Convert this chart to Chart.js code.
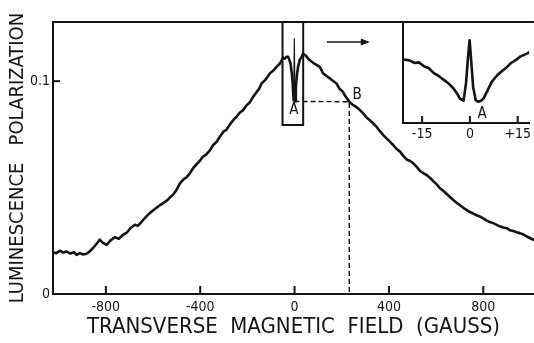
<!DOCTYPE html>
<html><head><meta charset="utf-8">
<script src="https://cdn.jsdelivr.net/npm/chart.js@4"></script>
<style>
html,body{margin:0;padding:0;background:#fff;}
#wrap{position:relative;width:534px;height:343px;overflow:hidden;background:#fff;}
#wrap canvas{position:absolute;left:0;top:0;}
</style></head><body>
<div id="wrap"><canvas id="main" width="534" height="343"></canvas><canvas id="inset" width="534" height="343"></canvas></div>
<script>
// ---- main trace: transverse field (G) vs luminescence polarization ----
const fieldGauss = [-1024,-1010,-995,-980,-967,-950,-935,-924,-910,-895,-882,-868,-854,-840,-826,-812,-797,-780,-762,-745,-727,-710,-695,-677,-665,-656,-640,-628,-614,-600,-585,-570,-557,-540,-527,-515,-500,-486,-470,-458,-444,-430,-415,-402,-389,-375,-359,-345,-330,-317,-300,-290,-275,-260,-245,-232,-218,-205,-190,-176,-160,-150,-140,-125,-115,-105,-90,-75,-62,-55,-48,-41,-34,-27,-22,-17,-12,-8,-4,-1,2,5.5,10,15,22,30,36,45,55,65,80,95,107,115,121,135,150,165,178,190,205,215,225,232,245,260,277,290,305,320,333,348,362,375,390,405,418,432,447,460,475,490,503,518,532,546,560,575,590,603,616,630,645,660,673,688,700,715,729,743,757,772,786,800,815,828,842,857,870,885,899,913,927,941,955,970,985,1000,1012,1020];
const polarization = [0.0195,0.0192,0.0203,0.0195,0.0200,0.0190,0.0196,0.0184,0.0192,0.0186,0.0189,0.0200,0.0216,0.0235,0.0255,0.0240,0.0231,0.0252,0.0267,0.0260,0.0278,0.0290,0.0310,0.0325,0.0320,0.0330,0.0350,0.0365,0.0380,0.0392,0.0405,0.0418,0.0427,0.0440,0.0455,0.0466,0.0490,0.0520,0.0540,0.0548,0.0567,0.0591,0.0610,0.0625,0.0645,0.0655,0.0675,0.0700,0.0715,0.0739,0.0765,0.0770,0.0795,0.0817,0.0835,0.0852,0.0864,0.0885,0.0900,0.0926,0.0950,0.0965,0.0989,0.1005,0.1020,0.1036,0.1050,0.1068,0.1083,0.1098,0.1110,0.1106,0.1115,0.1114,0.1100,0.1083,0.1040,0.0989,0.0911,0.1200,0.0905,0.0973,0.1030,0.1067,0.1100,0.1114,0.1130,0.1122,0.1110,0.1098,0.1085,0.1075,0.1067,0.1050,0.1036,0.1025,0.1013,0.1000,0.0989,0.0965,0.0950,0.0930,0.0915,0.0903,0.0890,0.0880,0.0864,0.0850,0.0830,0.0815,0.0802,0.0785,0.0765,0.0748,0.0731,0.0715,0.0700,0.0682,0.0669,0.0650,0.0632,0.0625,0.0614,0.0597,0.0578,0.0568,0.0559,0.0545,0.0528,0.0515,0.0497,0.0485,0.0470,0.0455,0.0442,0.0428,0.0418,0.0405,0.0395,0.0385,0.0378,0.0370,0.0364,0.0355,0.0345,0.0338,0.0333,0.0325,0.0318,0.0312,0.0309,0.0300,0.0296,0.0290,0.0286,0.0280,0.0270,0.0262,0.0255,0.0258];
const spikeRange = [-4, 2];             // narrow central spike (thin pen)
const mainXTicks = [-800, -400, 0, 400, 800];
const mainYTicks = [0, 0.1];
const mainYTickLabels = ['0', '0.1'];
const mainXRange = [-1024, 1015];
const mainYRange = [0, 0.1278];
// ---- annotations (data units) ----
const zoomBoxField = [-51, 36.5];
const zoomBoxBottom = 0.0794;
const pointA = [0, 0.0905];
const pointB = [232, 0.0903];
const labelA = [-3, 0.0864];
const labelB = [265, 0.0934];
const arrowField = [137, 319];
const arrowLevel = 0.1184;
// ---- inset: expanded region around zero field ----
const insetField = [-21.0,-20.3,-19.0,-17.3,-16.0,-14.3,-13.0,-11.3,-10.0,-8.2,-7.0,-5.2,-4.0,-3.2,-2.0,-1.2,-0.6,-0.1,0.4,1.0,1.8,2.6,3.5,4.3,5.5,6.9,8.5,9.9,11.5,12.9,14.5,15.9,17.0,18.3,18.6];
const insetSignal = [0.63,0.627,0.62,0.594,0.60,0.56,0.545,0.494,0.47,0.427,0.40,0.344,0.29,0.244,0.22,0.40,0.65,0.82,0.62,0.36,0.227,0.21,0.22,0.244,0.32,0.41,0.47,0.51,0.55,0.594,0.625,0.66,0.675,0.694,0.70];
const insetXTicks = [-15, 0, 15];
const insetXTickLabels = ['-15', '0', '+15'];
const insetXRange = [-21.0, 18.6];
const insetYRange = [0, 1];
const insetLabelA = [3.8, 0.087];

const INK = '#141414';
const FONT = '"Liberation Sans Narrow","DejaVu Sans Condensed","Liberation Sans",Arial,sans-serif';
Chart.defaults.font.family = FONT;
Chart.defaults.color = INK;

function line(ctx, x1, y1, x2, y2) { ctx.beginPath(); ctx.moveTo(x1, y1); ctx.lineTo(x2, y2); ctx.stroke(); }

const mainDecor = {
  id: 'mainDecor',
  afterDatasetsDraw(chart) {
    const {ctx, chartArea: a, scales: {x, y}} = chart;
    ctx.save();
    ctx.strokeStyle = INK; ctx.fillStyle = INK; ctx.lineWidth = 2; ctx.lineCap = 'butt';
    line(ctx, a.left - 1, a.top, a.right, a.top);
    mainXTicks.forEach(v => { const px = x.getPixelForValue(v); line(ctx, px, a.bottom, px, a.bottom - 8); });
    mainYTicks.forEach(v => { if (v > 0) { const py = y.getPixelForValue(v); line(ctx, a.left, py, a.left + 7, py); } });
    // zoom box
    const bx1 = x.getPixelForValue(zoomBoxField[0]), bx2 = x.getPixelForValue(zoomBoxField[1]);
    const by = y.getPixelForValue(zoomBoxBottom);
    ctx.strokeRect(bx1, a.top, bx2 - bx1, by - a.top);
    // dashed A-B construction
    ctx.lineWidth = 1.4; ctx.setLineDash([5, 3]);
    const ax = x.getPixelForValue(pointA[0]), ay = y.getPixelForValue(pointA[1]);
    const bxp = x.getPixelForValue(pointB[0]), byp = y.getPixelForValue(pointB[1]);
    ctx.beginPath(); ctx.moveTo(ax, ay); ctx.lineTo(bxp, byp); ctx.lineTo(bxp, a.bottom); ctx.stroke();
    ctx.setLineDash([]);
    // arrow
    const r1 = x.getPixelForValue(arrowField[0]), r2 = x.getPixelForValue(arrowField[1]), ry = y.getPixelForValue(arrowLevel);
    ctx.lineWidth = 1.6; line(ctx, r1, ry, r2 - 6, ry);
    ctx.beginPath(); ctx.moveTo(r2, ry); ctx.lineTo(r2 - 9, ry - 3.5); ctx.lineTo(r2 - 9, ry + 3.5); ctx.closePath(); ctx.fill();
    // letters
    ctx.font = '15px ' + FONT; ctx.textAlign = 'center'; ctx.textBaseline = 'middle';
    ctx.fillText('A', x.getPixelForValue(labelA[0]), y.getPixelForValue(labelA[1]));
    ctx.fillText('B', x.getPixelForValue(labelB[0]), y.getPixelForValue(labelB[1]));
    ctx.restore();
  }
};

new Chart(document.getElementById('main'), {
  type: 'line',
  data: { datasets: [{
    data: fieldGauss.map((g, i) => ({x: g, y: polarization[i]})),
    borderColor: INK, borderWidth: 2.6, pointRadius: 0, tension: 0,
    borderJoinStyle: 'round', borderCapStyle: 'round',
    segment: { borderWidth: c => (c.p0.parsed.x >= spikeRange[0] && c.p1.parsed.x <= spikeRange[1]) ? 1.1 : 2.6 }
  }]},
  options: {
    responsive: false, devicePixelRatio: 1, animation: false,
    layout: { padding: { top: 22, left: 0, right: 0, bottom: 0 } },
    plugins: { legend: { display: false }, tooltip: { enabled: false } },
    scales: {
      x: { type: 'linear', min: mainXRange[0], max: mainXRange[1],
        afterFit: s => { s.height = 49; },
        afterBuildTicks: s => { s.ticks = mainXTicks.map(v => ({value: v})); },
        grid: { display: false, drawTicks: false },
        border: { display: true, color: INK, width: 2 },
        ticks: { autoSkip: false, maxRotation: 0, padding: 5, color: INK, font: { size: 14 }, callback: v => String(v) },
        title: { display: true, text: 'TRANSVERSE  MAGNETIC  FIELD  (GAUSS)', color: INK, font: { size: 22, lineHeight: 1 }, padding: { top: 0, bottom: 5 } }
      },
      y: { type: 'linear', min: mainYRange[0], max: mainYRange[1],
        afterFit: s => { s.width = 53; },
        afterBuildTicks: s => { s.ticks = mainYTicks.map(v => ({value: v})); },
        grid: { display: false, drawTicks: false },
        border: { display: true, color: INK, width: 2 },
        ticks: { autoSkip: false, padding: 3, color: INK, font: { size: 14 }, callback: v => mainYTickLabels[mainYTicks.indexOf(v)] },
        title: { display: true, text: 'LUMINESCENCE   POLARIZATION', color: INK, font: { size: 20, lineHeight: 1 }, padding: { top: 8, bottom: 0 } }
      }
    }
  },
  plugins: [mainDecor]
});

const insetDecor = {
  id: 'insetDecor',
  beforeDraw(chart) {
    const {ctx, chartArea: a} = chart;
    ctx.save(); ctx.fillStyle = '#fff'; ctx.fillRect(a.left, a.top, a.right - a.left, a.bottom - a.top); ctx.restore();
  },
  afterDraw(chart) {
    const {ctx, chartArea: a, scales: {x}} = chart;
    ctx.save(); ctx.strokeStyle = INK; ctx.fillStyle = INK; ctx.lineWidth = 2;
    line(ctx, a.left - 1, a.top, a.right, a.top);
    insetXTicks.forEach(v => { const px = x.getPixelForValue(v); line(ctx, px, a.bottom, px, a.bottom - 7); });
    ctx.font = '15px ' + FONT; ctx.textAlign = 'center'; ctx.textBaseline = 'middle';
    ctx.fillText('A', x.getPixelForValue(insetLabelA[0]), chart.scales.y.getPixelForValue(insetLabelA[1]));
    ctx.restore();
  }
};

new Chart(document.getElementById('inset'), {
  type: 'line',
  data: { datasets: [{
    data: insetField.map((g, i) => ({x: g, y: insetSignal[i]})),
    borderColor: INK, borderWidth: 2.6, pointRadius: 0, tension: 0,
    borderJoinStyle: 'round', borderCapStyle: 'round'
  }]},
  options: {
    responsive: false, devicePixelRatio: 1, animation: false,
    layout: { padding: { top: 22, left: 403, right: 0, bottom: 200 } },
    plugins: { legend: { display: false }, tooltip: { enabled: false } },
    scales: {
      x: { type: 'linear', min: insetXRange[0], max: insetXRange[1],
        afterFit: s => { s.height = 20; },
        afterBuildTicks: s => { s.ticks = insetXTicks.map(v => ({value: v})); },
        grid: { display: false, drawTicks: false },
        border: { display: true, color: INK, width: 2 },
        ticks: { autoSkip: false, maxRotation: 0, padding: 3, color: INK, font: { size: 14 }, callback: v => insetXTickLabels[insetXTicks.indexOf(v)] }
      },
      y: { type: 'linear', min: insetYRange[0], max: insetYRange[1],
        afterFit: s => { s.width = 0; },
        grid: { display: false, drawTicks: false },
        border: { display: true, color: INK, width: 2 },
        ticks: { display: false }
      }
    }
  },
  plugins: [insetDecor]
});
</script>
</body></html>
